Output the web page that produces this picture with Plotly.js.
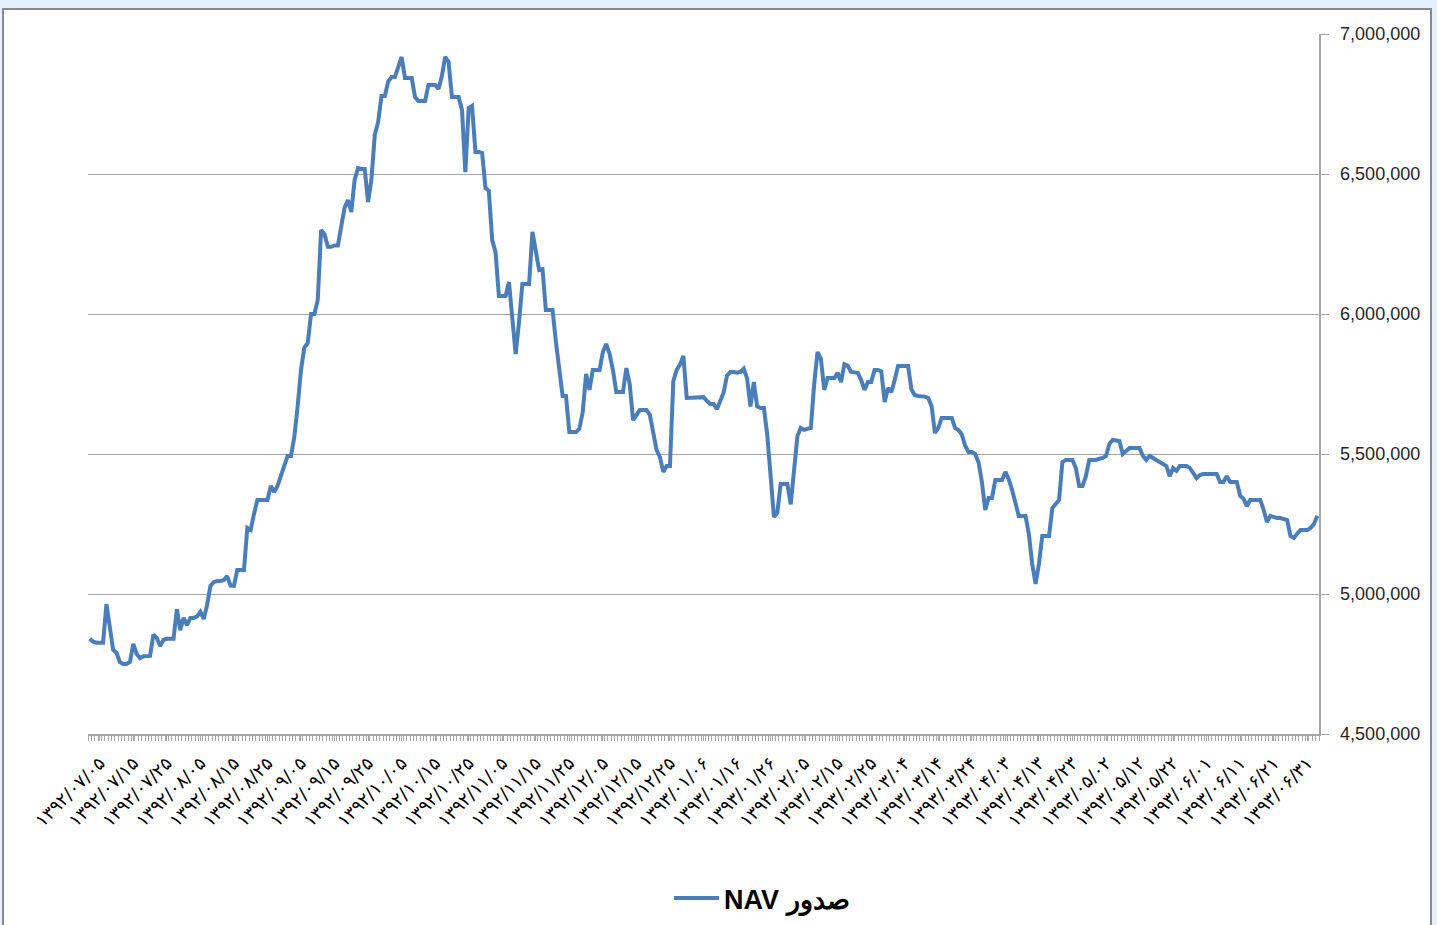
<!DOCTYPE html>
<html>
<head>
<meta charset="utf-8">
<script src="https://cdn.plot.ly/plotly-3.0.1.min.js"></script>
<style>
  html, body { margin: 0; padding: 0; background: #e4f0fb; overflow: hidden; }
  #frame { position: absolute; left: 2px; top: 8px; width: 1426px; height: 960px;
           border: 2px solid #8a8a8a; background: #ffffff; overflow: hidden; }
  #chart { width: 1426px; height: 960px; }
</style>
</head>
<body>
<div id="frame"><div id="chart"></div></div>
<script>
// Daily NAV values (issuance NAV), 1392/07/02 .. 1393/07/03
const navValues = [
  4840000, 4830000, 4826000, 4826000, 4826000, 4964000, 4880000, 4800000, 4790000, 4757000,
  4750000, 4750000, 4757000, 4822000, 4786000, 4771000, 4778000, 4779000, 4779000, 4855000,
  4843000, 4814000, 4836000, 4840000, 4840000, 4840000, 4946000, 4871000, 4915000, 4889000,
  4914000, 4914000, 4920000, 4936000, 4911000, 4960000, 5029000, 5043000, 5046000, 5046000,
  5050000, 5064000, 5030000, 5029000, 5086000, 5086000, 5086000, 5236000, 5229000, 5286000,
  5336000, 5336000, 5336000, 5336000, 5386000, 5364000, 5386000, 5420000, 5460000, 5493000,
  5493000, 5560000, 5670000, 5800000, 5880000, 5896000, 6000000, 6000000, 6050000, 6300000,
  6285000, 6240000, 6240000, 6245000, 6245000, 6310000, 6380000, 6407000, 6364000, 6480000,
  6521000, 6518000, 6518000, 6400000, 6480000, 6640000, 6686000, 6779000, 6779000, 6830000,
  6846000, 6846000, 6880000, 6918000, 6843000, 6843000, 6843000, 6775000, 6761000, 6761000,
  6761000, 6818000, 6818000, 6818000, 6804000, 6850000, 6918000, 6900000, 6775000, 6775000,
  6775000, 6729000, 6507000, 6736000, 6743000, 6579000, 6579000, 6575000, 6450000, 6440000,
  6264000, 6221000, 6064000, 6064000, 6064000, 6114000, 5971000, 5857000, 5971000, 6107000,
  6107000, 6107000, 6293000, 6230000, 6157000, 6160000, 6014000, 6014000, 6014000, 5900000,
  5807000, 5707000, 5707000, 5579000, 5579000, 5579000, 5590000, 5650000, 5786000, 5729000,
  5800000, 5800000, 5800000, 5864000, 5893000, 5857000, 5800000, 5721000, 5721000, 5721000,
  5807000, 5750000, 5621000, 5640000, 5657000, 5657000, 5657000, 5640000, 5580000, 5515000,
  5490000, 5436000, 5457000, 5457000, 5760000, 5800000, 5820000, 5850000, 5700000, 5700000,
  5700000, 5700000, 5700000, 5703000, 5690000, 5679000, 5679000, 5660000, 5690000, 5720000,
  5780000, 5793000, 5793000, 5790000, 5793000, 5805000, 5770000, 5670000, 5757000, 5670000,
  5664000, 5664000, 5570000, 5420000, 5275000, 5290000, 5393000, 5393000, 5393000, 5320000,
  5443000, 5564000, 5593000, 5586000, 5590000, 5593000, 5750000, 5864000, 5840000, 5729000,
  5771000, 5771000, 5771000, 5790000, 5757000, 5821000, 5815000, 5793000, 5793000, 5790000,
  5764000, 5729000, 5757000, 5757000, 5800000, 5800000, 5795000, 5686000, 5736000, 5721000,
  5764000, 5814000, 5814000, 5814000, 5814000, 5730000, 5710000, 5707000, 5707000, 5705000,
  5700000, 5671000, 5575000, 5593000, 5629000, 5629000, 5629000, 5629000, 5593000, 5586000,
  5570000, 5530000, 5507000, 5507000, 5500000, 5470000, 5400000, 5300000, 5343000, 5343000,
  5407000, 5407000, 5407000, 5436000, 5410000, 5371000, 5320000, 5279000, 5279000, 5279000,
  5214000, 5107000, 5036000, 5107000, 5207000, 5207000, 5207000, 5307000, 5320000, 5336000,
  5471000, 5479000, 5479000, 5479000, 5450000, 5386000, 5386000, 5421000, 5479000, 5479000,
  5479000, 5483000, 5486000, 5493000, 5536000, 5550000, 5548000, 5546000, 5500000, 5510000,
  5521000, 5521000, 5521000, 5521000, 5493000, 5479000, 5493000, 5486000, 5479000, 5471000,
  5464000, 5457000, 5421000, 5450000, 5440000, 5457000, 5457000, 5457000, 5450000, 5429000,
  5414000, 5425000, 5429000, 5429000, 5429000, 5429000, 5429000, 5400000, 5400000, 5421000,
  5400000, 5400000, 5400000, 5350000, 5340000, 5314000, 5336000, 5336000, 5336000, 5336000,
  5300000, 5257000, 5279000, 5275000, 5271000, 5271000, 5268000, 5264000, 5207000, 5200000,
  5215000, 5229000, 5229000, 5229000, 5236000, 5250000, 5279000
];

// Category tick labels (every 10th day), Persian calendar
const tickLabels = [
  "۱۳۹۲/۰۷/۰۵", "۱۳۹۲/۰۷/۱۵", "۱۳۹۲/۰۷/۲۵", "۱۳۹۲/۰۸/۰۵", "۱۳۹۲/۰۸/۱۵", "۱۳۹۲/۰۸/۲۵",
  "۱۳۹۲/۰۹/۰۵", "۱۳۹۲/۰۹/۱۵", "۱۳۹۲/۰۹/۲۵", "۱۳۹۲/۱۰/۰۵", "۱۳۹۲/۱۰/۱۵", "۱۳۹۲/۱۰/۲۵",
  "۱۳۹۲/۱۱/۰۵", "۱۳۹۲/۱۱/۱۵", "۱۳۹۲/۱۱/۲۵", "۱۳۹۲/۱۲/۰۵", "۱۳۹۲/۱۲/۱۵", "۱۳۹۲/۱۲/۲۵",
  "۱۳۹۳/۰۱/۰۶", "۱۳۹۳/۰۱/۱۶", "۱۳۹۳/۰۱/۲۶", "۱۳۹۳/۰۲/۰۵", "۱۳۹۳/۰۲/۱۵", "۱۳۹۳/۰۲/۲۵",
  "۱۳۹۳/۰۳/۰۴", "۱۳۹۳/۰۳/۱۴", "۱۳۹۳/۰۳/۲۴", "۱۳۹۳/۰۴/۰۳", "۱۳۹۳/۰۴/۱۳", "۱۳۹۳/۰۴/۲۳",
  "۱۳۹۳/۰۵/۰۲", "۱۳۹۳/۰۵/۱۲", "۱۳۹۳/۰۵/۲۲", "۱۳۹۳/۰۶/۰۱", "۱۳۹۳/۰۶/۱۱", "۱۳۹۳/۰۶/۲۱",
  "۱۳۹۳/۰۶/۳۱"
];
const firstLabelDay = 3;   // day index of the first labelled category
const labelEvery = 10;     // labels every 10 categories

const seriesName = "\u202Bصدور NAV\u202C";

const dayIndex = navValues.map((_, i) => i);
const tickVals = tickLabels.map((_, k) => firstLabelDay + labelEvery * k);

const trace = {
  x: dayIndex,
  y: navValues,
  type: 'scatter',
  mode: 'lines',
  name: seriesName,
  line: { color: '#4a7ebb', width: 4, shape: 'linear' },
  showlegend: true
};

const axisGray = '#a6a6a6';

const layout = {
  width: 1426,
  height: 960,
  margin: { l: 84, r: 111, t: 24, b: 236 },
  paper_bgcolor: '#ffffff',
  plot_bgcolor: '#ffffff',
  showlegend: true,
  font: { family: '"DejaVu Sans", sans-serif', color: '#000000' },
  xaxis: {
    range: [-0.5, navValues.length - 0.5],
    tickmode: 'array',
    tickvals: tickVals,
    ticktext: tickLabels,
    tickangle: -45,
    tickfont: { family: '"DejaVu Sans", sans-serif', size: 18, color: '#000000' },
    ticks: 'outside',
    ticklen: 5,
    tickcolor: axisGray,
    ticklabelstandoff: 5,
    showgrid: false,
    zeroline: false,
    showline: true,
    linecolor: axisGray,
    linewidth: 1.5,
    minor: { tickmode: 'linear', tick0: -0.5, dtick: 1, ticks: 'outside', ticklen: 5,
             tickcolor: axisGray, showgrid: false }
  },
  yaxis: {
    side: 'right',
    range: [4500000, 7000000],
    tickmode: 'linear',
    tick0: 4500000,
    dtick: 500000,
    tickformat: ',d',
    tickfont: { family: '"Liberation Sans", Arial, sans-serif', size: 18, color: '#262626' },
    ticks: 'outside',
    ticklen: 8,
    tickcolor: axisGray,
    ticklabelstandoff: 8,
    showgrid: true,
    gridcolor: axisGray,
    gridwidth: 1,
    zeroline: false,
    showline: true,
    linecolor: axisGray,
    linewidth: 1.5
  },
  legend: {
    orientation: 'h',
    x: 0.472,
    xanchor: 'left',
    y: -0.235,
    yanchor: 'middle',
    itemwidth: 45,
    font: { family: '"Liberation Sans", Arial, sans-serif', size: 27, color: '#000000', weight: 'bold' },
    bgcolor: 'rgba(0,0,0,0)'
  }
};

Plotly.newPlot('chart', [trace], layout, { displayModeBar: false, staticPlot: true });
</script>
</body>
</html>
